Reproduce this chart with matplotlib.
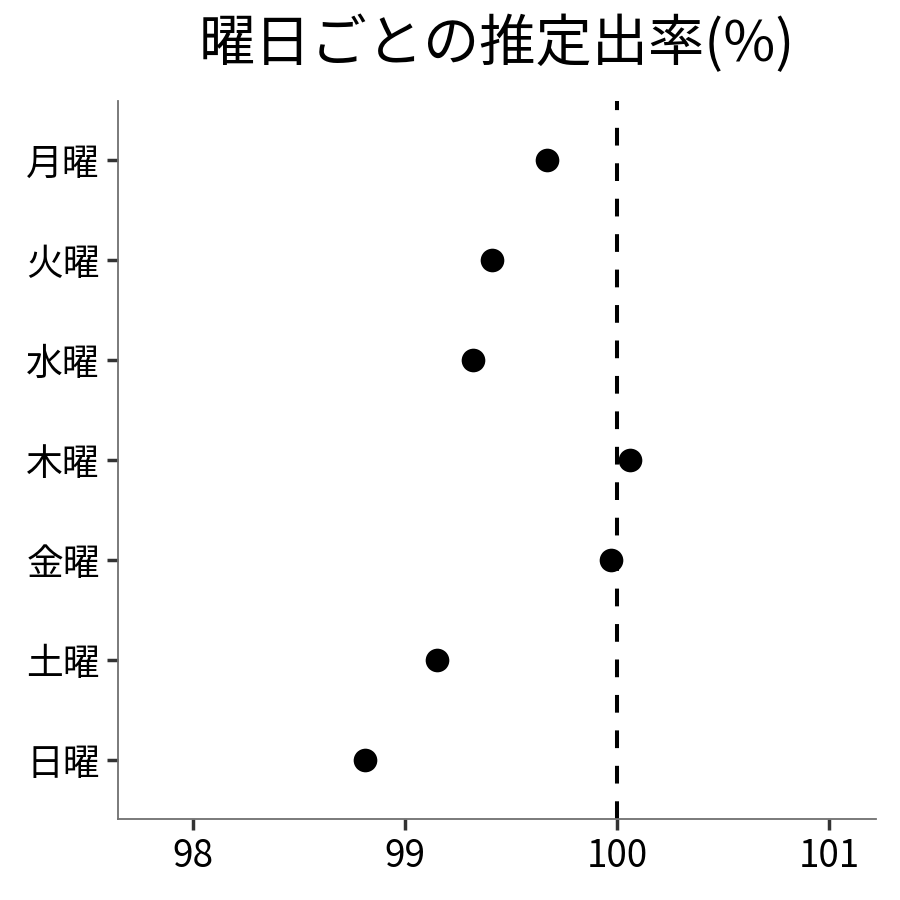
import matplotlib
matplotlib.use("Agg")
import matplotlib.pyplot as plt

plt.rcParams['font.family'] = ['Noto Sans CJK JP', 'DejaVu Sans']

days = ["月曜", "火曜", "水曜", "木曜", "金曜", "土曜", "日曜"]
rates = [99.67, 99.41, 99.32, 100.06, 99.97, 99.15, 98.81]
xticks = [98, 99, 100, 101]
ref_value = 100
title = "曜日ごとの推定出率(%)"

fig = plt.figure(figsize=(9, 9), dpi=100)
ax = fig.add_axes([0.1311, 0.09, 0.8422, 0.7978])

ypos = list(range(len(days)))[::-1]
ax.scatter(rates, ypos, s=290, color="black", zorder=3, linewidths=0)
ax.axvline(ref_value, color="black", linewidth=2.9, dashes=(4.4, 4.4), zorder=2)

ax.set_yticks(ypos)
ax.set_yticklabels(days)
ax.set_xticks(xticks)
ax.set_xticklabels([str(t) for t in xticks])
ax.set_xlim(97.646, 101.22)
ax.set_ylim(-0.59, 6.59)

for s in ["top", "right"]:
    ax.spines[s].set_visible(False)
for s in ["left", "bottom"]:
    ax.spines[s].set_color("#707070")
    ax.spines[s].set_linewidth(1.3)

ax.tick_params(axis="both", length=8, width=2.5, color="#333333",
               labelsize=26.5, labelcolor="black", pad=5)

fig.suptitle(title, x=0.552, y=0.95, fontsize=40.5, va="center")
fig.savefig("out.png", dpi=100, facecolor="white")
